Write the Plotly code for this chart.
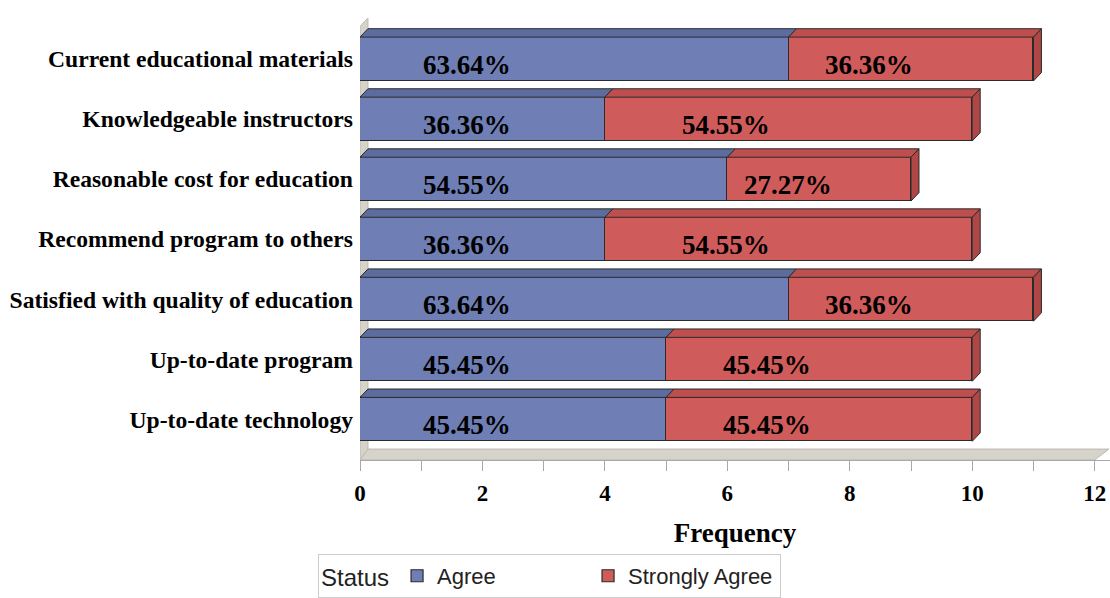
import plotly.graph_objects as go

# ---- data ----
categories = [
    "Current educational materials",
    "Knowledgeable instructors",
    "Reasonable cost for education",
    "Recommend program to others",
    "Satisfied with quality of education",
    "Up-to-date program",
    "Up-to-date technology",
]
agree = [7, 4, 6, 4, 7, 5, 5]
strongly_agree = [4, 6, 3, 6, 4, 5, 5]
respondents = 11
x_ticks = [0, 2, 4, 6, 8, 10, 12]

agree_col = "#6f7fb5"
agree_top = "#5d6c9e"
sa_col = "#d05b5b"
sa_top = "#bf4f4f"
sa_side = "#b04646"
edge = "#2a2a2a"
wall_col = "#d6d3cb"

ypos = list(range(len(categories)))
bar_w = 0.73
dx = 0.13   # depth offset in x units
dy = 0.14   # depth offset in y units
y_top, y_bot = -0.733, 6.677
x_max = 12.25

fig = go.Figure()
fig.add_trace(go.Bar(
    y=ypos, x=agree, orientation="h", name="Agree", width=bar_w,
    marker=dict(color=agree_col, line=dict(color=edge, width=1.2)),
    hoverinfo="x",
))
fig.add_trace(go.Bar(
    y=ypos, x=strongly_agree, orientation="h", name="Strongly Agree", width=bar_w,
    marker=dict(color=sa_col, line=dict(color=edge, width=1.2)),
    hoverinfo="x",
))

shapes = []
# wall and floor
shapes.append(dict(type="path", xref="x", yref="y", layer="below",
                   path=f"M 0 {y_bot} L {dx} {y_bot-dy} L {dx} {y_top+0.05} L 0 {y_top+0.05+dy} Z",
                   fillcolor=wall_col, line=dict(color="#bdb9b0", width=1)))
shapes.append(dict(type="path", xref="x", yref="y", layer="below",
                   path=f"M 0 {y_bot} L 12 {y_bot} L {12+dx*1.8} {y_bot-dy*1.3} L {dx} {y_bot-dy*1.3} Z",
                   fillcolor=wall_col, line=dict(color="#bdb9b0", width=1)))

# 3D top and side faces derived from data
for y, a, s in zip(ypos, agree, strongly_agree):
    top = y - bar_w / 2
    bot = y + bar_w / 2
    for base, val, col in [(0, a, agree_top), (a, s, sa_top)]:
        x0, x1 = base, base + val
        shapes.append(dict(type="path", xref="x", yref="y", layer="above",
                           path=f"M {x0} {top} L {x1} {top} L {x1+dx} {top-dy} L {x0+dx} {top-dy} Z",
                           fillcolor=col, line=dict(color=edge, width=1)))
    tot = a + s
    shapes.append(dict(type="path", xref="x", yref="y", layer="above",
                       path=f"M {tot} {top} L {tot+dx} {top-dy} L {tot+dx} {bot-dy} L {tot} {bot} Z",
                       fillcolor=sa_side, line=dict(color=edge, width=1)))

# percentage labels
annotations = []
lab_font = dict(family="Liberation Serif, Times New Roman, serif", size=27, color="black")
for y, a, s in zip(ypos, agree, strongly_agree):
    annotations.append(dict(x=1.75, y=y, xref="x", yref="y", showarrow=False, yshift=-6,
                            text=f"<b>{a / respondents * 100:.2f}%</b>", font=lab_font))
    annotations.append(dict(x=a + 0.33 * s, y=y, xref="x", yref="y", showarrow=False, yshift=-6,
                            text=f"<b>{s / respondents * 100:.2f}%</b>", font=lab_font))

leg_font = "Liberation Sans Narrow, Arial Narrow, Liberation Sans, sans-serif"
fig.update_layout(
    width=1110, height=598,
    margin=dict(l=360, r=0, t=15, b=138, autoexpand=False),
    paper_bgcolor="white", plot_bgcolor="white",
    barmode="stack", bargap=0,
    shapes=shapes, annotations=annotations,
    showlegend=True,
    legend=dict(
        orientation="h", x=-0.056, xanchor="left", y=-0.31, yanchor="bottom",
        traceorder="normal",
        title=dict(text="Status", font=dict(family=leg_font, size=24, color="#222")),
        font=dict(family=leg_font, size=22, color="#222"),
        bordercolor="#cccccc", borderwidth=1, entrywidth=146, itemwidth=30,
        bgcolor="white",
    ),
    xaxis=dict(
        range=[0, x_max], tickvals=x_ticks, ticktext=[f"<b>{t}</b>" for t in x_ticks],
        automargin=False, ticklabelstandoff=2,
        showgrid=False, zeroline=False, showline=True, linecolor="#a8a8a8", linewidth=1,
        ticks="outside", ticklen=10, tickcolor="#a8a8a8",
        minor=dict(dtick=1, ticks="outside", ticklen=10, tickcolor="#a8a8a8", showgrid=False),
        tickfont=dict(family="Liberation Serif, Times New Roman, serif", size=23, color="black"),
        title=dict(text="<b>Frequency</b>", standoff=18,
                   font=dict(family="Liberation Serif, Times New Roman, serif", size=27, color="black")),
    ),
    yaxis=dict(
        range=[y_bot, y_top], tickvals=ypos, ticktext=[f"<b>{c}</b>" for c in categories],
        automargin=False,
        showgrid=False, zeroline=False, showline=False, ticks="", ticklabelstandoff=6,
        tickfont=dict(family="Liberation Serif, Times New Roman, serif", size=23.6, color="black"),
    ),
)

fig.write_html(
    "out.html",
    config={"displayModeBar": False},
    post_script="document.body.style.margin='0';document.body.style.overflow='hidden';",
)
